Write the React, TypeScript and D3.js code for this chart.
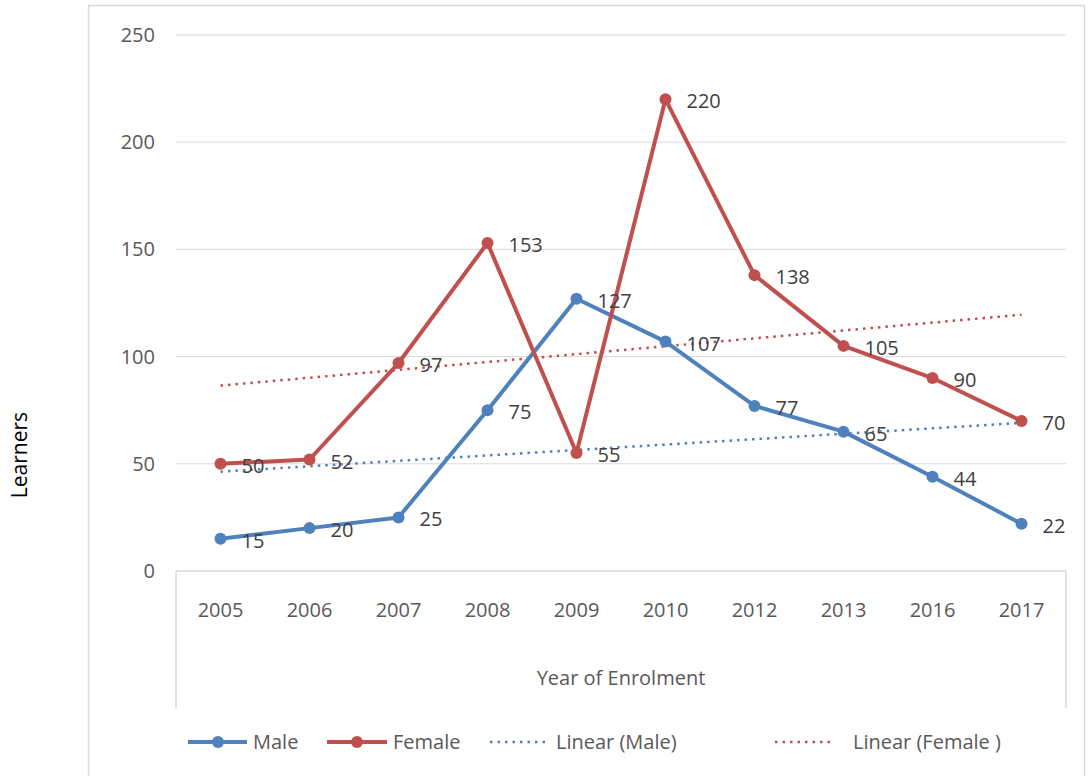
import React from "react";
import * as d3 from "d3";

const years = ["2005", "2006", "2007", "2008", "2009", "2010", "2012", "2013", "2016", "2017"];
const male = [15, 20, 25, 75, 127, 107, 77, 65, 44, 22];
const female = [50, 52, 97, 153, 55, 220, 138, 105, 90, 70];
const yTicks = [0, 50, 100, 150, 200, 250];

const MALE_C = "#4F81BD";
const FEMALE_C = "#C0504D";
const TEXT_C = "#595959";
const GRID_C = "#D9D9D9";
const FONT = "'Open Sans', 'Liberation Sans', sans-serif";
const FS = 20;

function linreg(vals: number[]) {
  const xs = vals.map((_, i) => i + 1);
  const mx = d3.mean(xs)!;
  const my = d3.mean(vals)!;
  let sxy = 0, sxx = 0;
  xs.forEach((x, i) => { sxy += (x - mx) * (vals[i] - my); sxx += (x - mx) ** 2; });
  const b = sxy / sxx;
  const a = my - b * mx;
  return xs.map((x) => a + b * x);
}

export default function App() {
  const W = 1088, H = 776;
  const left = 176, right = 1066, top = 35, bottom = 571;
  const x = d3.scaleBand<string>().domain(years).range([left, right]);
  const y = d3.scaleLinear().domain([0, 250]).range([bottom, top]);
  const cx = (d: string) => x(d)! + x.bandwidth() / 2;

  const line = d3.line<number>().x((_, i) => cx(years[i])).y((v) => y(v));
  const maleTrend = linreg(male);
  const femaleTrend = linreg(female);

  const series = [
    { vals: male, c: MALE_C },
    { vals: female, c: FEMALE_C },
  ];

  return (
    <svg width={W} height={H} style={{ position: "absolute", left: 0, top: 0, fontFamily: FONT }}>
      <rect x={0} y={0} width={W} height={H} fill="#fff" />
      <rect x={88.5} y={5.5} width={996} height={780} fill="none" stroke={GRID_C} strokeWidth={1.5} />
      {yTicks.map((t) => (
        <g key={t}>
          {t > 0 && <line x1={left} x2={right} y1={y(t)} y2={y(t)} stroke={GRID_C} strokeWidth={1} />}
          <text x={155} y={y(t)} dy="0.35em" textAnchor="end" fontSize={FS} fill={TEXT_C}>{t}</text>
        </g>
      ))}
      <line x1={left} x2={right} y1={bottom} y2={bottom} stroke={GRID_C} strokeWidth={1.5} />
      <line x1={left} x2={left} y1={bottom} y2={708} stroke={GRID_C} strokeWidth={1.5} />
      <line x1={right} x2={right} y1={bottom} y2={708} stroke={GRID_C} strokeWidth={1.5} />
      {years.map((yr) => (
        <text key={yr} x={cx(yr)} y={610} dy="0.35em" textAnchor="middle" fontSize={FS} fill={TEXT_C}>{yr}</text>
      ))}
      <text x={621} y={678} dy="0.35em" textAnchor="middle" fontSize={FS} fill={TEXT_C}>Year of Enrolment</text>
      <text transform="translate(20,455) rotate(-90)" textAnchor="middle" dy="0.35em" fontSize={21} fill="#000">Learners</text>

      <path d={line(maleTrend)!} fill="none" stroke={MALE_C} strokeWidth={2.5} strokeDasharray="2.5 5" />
      <path d={line(femaleTrend)!} fill="none" stroke={FEMALE_C} strokeWidth={2.5} strokeDasharray="2.5 5" />

      {series.map((s, si) => (
        <g key={si}>
          <path d={line(s.vals)!} fill="none" stroke={s.c} strokeWidth={4} strokeLinejoin="round" />
          {s.vals.map((v, i) => (
            <circle key={i} cx={cx(years[i])} cy={y(v)} r={6} fill={s.c} />
          ))}
        </g>
      ))}
      {series.map((s, si) =>
        s.vals.map((v, i) => (
          <text key={`${si}-${i}`} x={cx(years[i]) + 21} y={y(v) + 2} dy="0.35em" fontSize={FS} fill="#404040">{v}</text>
        ))
      )}

      <g fontSize={FS} fill={TEXT_C}>
        <line x1={188} x2={247} y1={742} y2={742} stroke={MALE_C} strokeWidth={4} />
        <circle cx={218} cy={742} r={6} fill={MALE_C} />
        <text x={253} y={742} dy="0.35em">Male</text>
        <line x1={327} x2={387} y1={742} y2={742} stroke={FEMALE_C} strokeWidth={4} />
        <circle cx={357} cy={742} r={6} fill={FEMALE_C} />
        <text x={393} y={742} dy="0.35em">Female</text>
        <line x1={490} x2={547} y1={742} y2={742} stroke={MALE_C} strokeWidth={2.5} strokeDasharray="2.5 5" />
        <text x={556} y={742} dy="0.35em">Linear (Male)</text>
        <line x1={775} x2={835} y1={742} y2={742} stroke={FEMALE_C} strokeWidth={2.5} strokeDasharray="2.5 5" />
        <text x={853} y={742} dy="0.35em">Linear (Female )</text>
      </g>
    </svg>
  );
}
